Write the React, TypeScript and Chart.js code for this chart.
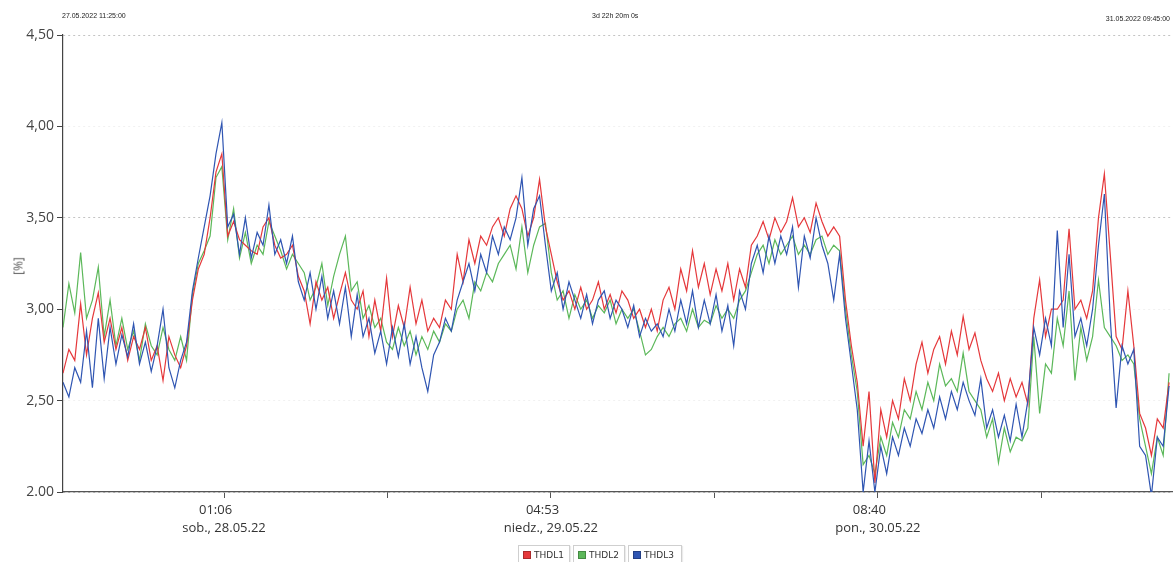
import React, { useEffect, useRef } from "react";
import Chart from "chart.js/auto";

// Sampling: one value every 30 minutes from 27.05.2022 11:25:00
const SAMPLE_STEP_MIN = 30;
const TOTAL_MIN = 5660; // 3d 22h 20m

const THDL1 = [
  2.65, 2.78, 2.72, 3.03, 2.75, 2.95,
  3.09, 2.82, 2.95, 2.78, 2.90, 2.72, 2.85, 2.78, 2.90, 2.72, 2.80, 2.61, 2.85, 2.75, 2.68,
  2.80, 3.05, 3.22, 3.30, 3.50, 3.75, 3.85,
  3.40, 3.48, 3.38, 3.35, 3.32, 3.30, 3.45, 3.50, 3.35, 3.28, 3.30, 3.35,
  3.18, 3.10, 2.92, 3.15, 3.05, 3.12, 2.95, 3.08, 3.20, 3.05,
  3.00, 3.10, 2.85, 3.05, 2.88, 3.17, 2.85, 3.02, 2.90, 3.12,
  2.92, 3.05, 2.88, 2.95, 2.90, 3.05, 3.00, 3.30, 3.15, 3.38,
  3.25, 3.40, 3.35, 3.45, 3.50, 3.40, 3.55, 3.62, 3.55, 3.40,
  3.50, 3.71, 3.45, 3.30, 3.15, 3.05, 3.10, 3.00, 3.12, 3.00,
  3.05, 3.15, 3.00, 3.08, 2.98, 3.10, 3.05, 2.95, 3.00, 2.90,
  3.00, 2.88, 3.05, 3.12, 3.00, 3.22, 3.10, 3.32, 3.12, 3.25,
  3.08, 3.22, 3.10, 3.25, 3.05, 3.22, 3.12, 3.35, 3.40, 3.48,
  3.38, 3.50, 3.42, 3.48, 3.61, 3.45, 3.50, 3.42, 3.58, 3.48,
  3.40, 3.45, 3.40, 3.05, 2.80, 2.60, 2.25, 2.55, 2.05, 2.45,
  2.30, 2.50, 2.40, 2.62, 2.50, 2.70, 2.82, 2.65, 2.78, 2.85,
  2.70, 2.88, 2.75, 2.96, 2.78, 2.87, 2.72, 2.62, 2.55, 2.65,
  2.50, 2.62, 2.52, 2.60, 2.48, 2.95, 3.16, 2.85, 3.00, 3.00,
  3.05, 3.44, 3.00, 3.05, 2.95, 3.10, 3.50, 3.74, 3.30, 2.85,
  2.78, 3.10, 2.80, 2.43, 2.35, 2.20, 2.40, 2.35, 2.60,
];

const THDL2 = [
  2.90, 3.14, 2.98, 3.31, 2.95, 3.05,
  3.23, 2.85, 3.05, 2.80, 2.95, 2.78, 2.88, 2.72, 2.92, 2.80, 2.75, 2.90, 2.78, 2.72, 2.85,
  2.72, 3.08, 3.25, 3.32, 3.40, 3.72, 3.78,
  3.38, 3.55, 3.28, 3.42, 3.25, 3.35, 3.30, 3.48, 3.40, 3.32, 3.22, 3.30,
  3.25, 3.20, 3.05, 3.12, 3.25, 3.02, 3.18, 3.30, 3.40, 3.10,
  3.15, 2.95, 3.02, 2.90, 2.95, 2.82, 2.78, 2.90, 2.80, 2.88,
  2.75, 2.85, 2.78, 2.88, 2.82, 2.92, 2.88, 3.00, 3.05, 2.95,
  3.15, 3.10, 3.20, 3.15, 3.25, 3.30, 3.35, 3.22, 3.45, 3.20,
  3.35, 3.45, 3.47, 3.20, 3.05, 3.10, 2.95, 3.08, 3.00, 3.05,
  2.95, 3.02, 2.98, 3.05, 2.92, 3.00, 2.95, 3.00, 2.88, 2.75,
  2.78, 2.85, 2.90, 2.85, 2.92, 2.95, 2.88, 3.00, 2.90, 2.94,
  2.92, 3.02, 2.95, 3.00, 2.95, 3.05, 3.10, 3.20, 3.30, 3.35,
  3.25, 3.38, 3.30, 3.35, 3.40, 3.30, 3.35, 3.30, 3.38, 3.40,
  3.30, 3.35, 3.32, 3.00, 2.75, 2.55, 2.15, 2.20, 2.10, 2.30,
  2.20, 2.38, 2.30, 2.45, 2.40, 2.55, 2.45, 2.60, 2.50, 2.70,
  2.58, 2.62, 2.55, 2.76, 2.55, 2.50, 2.45, 2.30, 2.40, 2.16,
  2.35, 2.22, 2.30, 2.28, 2.35, 2.85, 2.43, 2.70, 2.65, 2.95,
  2.80, 3.10, 2.61, 2.90, 2.72, 2.85, 3.16, 2.90, 2.85, 2.80,
  2.72, 2.75, 2.70, 2.40, 2.25, 2.10, 2.30, 2.20, 2.65,
];

const THDL3 = [
  2.60, 2.52, 2.68, 2.60, 2.88, 2.57,
  2.95, 2.62, 2.90, 2.70, 2.86, 2.74, 2.92, 2.70, 2.82, 2.66, 2.80, 3.00, 2.68, 2.57, 2.72,
  2.82, 3.10, 3.28, 3.45, 3.62, 3.85, 4.02,
  3.45, 3.52, 3.30, 3.50, 3.28, 3.42, 3.35, 3.57, 3.30, 3.38, 3.25, 3.40,
  3.15, 3.05, 3.20, 3.00, 3.18, 2.95, 3.10, 2.92, 3.12, 2.85,
  3.08, 2.85, 2.95, 2.76, 2.88, 2.70, 2.90, 2.74, 2.92, 2.70,
  2.85, 2.68, 2.55, 2.75, 2.82, 2.95, 2.88, 3.05, 3.15, 3.25,
  3.10, 3.30, 3.20, 3.40, 3.30, 3.45, 3.38, 3.50, 3.72, 3.35,
  3.55, 3.62, 3.35, 3.10, 3.20, 3.00, 3.15, 3.05, 2.95, 3.08,
  2.92, 3.05, 3.10, 2.95, 3.05, 3.00, 2.90, 3.02, 2.85, 2.95,
  2.88, 2.92, 2.85, 3.00, 2.88, 3.05, 2.92, 3.10, 2.90, 3.05,
  2.92, 3.08, 2.88, 3.02, 2.80, 3.10, 3.00, 3.25, 3.35, 3.20,
  3.40, 3.25, 3.40, 3.30, 3.45, 3.12, 3.40, 3.28, 3.50, 3.35,
  3.25, 3.05, 3.30, 2.95, 2.70, 2.45, 2.00, 2.28, 2.00, 2.25,
  2.10, 2.30, 2.20, 2.35, 2.25, 2.40, 2.32, 2.45, 2.35, 2.52,
  2.40, 2.55, 2.45, 2.60, 2.50, 2.42, 2.62, 2.35, 2.45, 2.30,
  2.42, 2.28, 2.48, 2.30, 2.50, 2.90, 2.75, 2.95, 2.80, 3.43,
  2.90, 3.30, 2.85, 2.95, 2.80, 3.00, 3.35, 3.63, 2.95, 2.46,
  2.80, 2.70, 2.78, 2.25, 2.20, 1.98, 2.30, 2.25, 2.58,
];

const SERIES_NAMES = ["THDL1", "THDL2", "THDL3"];
const SERIES_COLORS = ["#e5383b", "#5cb85a", "#2f55b2"];

const X_TICK_MINUTES = [821, 1654.5, 2488, 3321.5, 4155, 4988.5];
const X_TICK_LABELS: (string | string[])[] = [
  ["01:06     ", "sob., 28.05.22"],
  "",
  ["04:53     ", "niedz., 29.05.22"],
  "",
  ["08:40     ", "pon., 30.05.22"],
  "",
];
const Y_TICK_VALUES = [2, 2.5, 3, 3.5, 4, 4.5];
const Y_TICK_LABELS = ["2.00", "2,50", "3,00", "3,50", "4,00", "4,50"];
const Y_STRONG_GRID = [2, 3.5, 4.5];

const HEADER_START = "27.05.2022 11:25:00";
const HEADER_SPAN = "3d 22h 20m 0s";
const HEADER_END = "31.05.2022 09:45:00";
const Y_TITLE = "[%]";

export default function App() {
  const canvasRef = useRef<HTMLCanvasElement | null>(null);

  useEffect(() => {
    document.body.style.margin = "0";
    const canvas = canvasRef.current;
    if (!canvas) return;
    const seriesValues = [THDL1, THDL2, THDL3];
    const orders = [2, 3, 1];
    const chart = new Chart(canvas, {
      type: "line",
      data: {
        datasets: seriesValues.map((vals, s) => ({
          label: SERIES_NAMES[s],
          data: vals.map((v, i) => ({ x: i * SAMPLE_STEP_MIN, y: v })),
          borderColor: SERIES_COLORS[s],
          backgroundColor: SERIES_COLORS[s],
          borderWidth: 1.2,
          pointRadius: 0,
          tension: 0,
          fill: false,
          order: orders[s],
        })),
      },
      options: {
        responsive: false,
        animation: false,
        parsing: true,
        layout: { padding: { top: 35, left: 0, right: 0, bottom: 0 } },
        plugins: {
          legend: { display: false },
          tooltip: { enabled: false },
        },
        scales: {
          x: {
            type: "linear",
            min: 0,
            max: TOTAL_MIN,
            afterBuildTicks: (scale: any) => {
              scale.ticks = X_TICK_MINUTES.map((v) => ({ value: v }));
            },
            afterFit: (scale: any) => {
              scale.height = 70;
            },
            ticks: {
              autoSkip: false,
              maxRotation: 0,
              minRotation: 0,
              padding: 4,
              color: "#333",
              font: { family: "'Open Sans', 'Noto Sans', sans-serif", size: 13, lineHeight: 1.35 },
              callback: (_v: any, idx: number) => X_TICK_LABELS[idx],
            },
            grid: {
              drawOnChartArea: false,
              drawTicks: true,
              tickLength: 6,
              color: "#555",
            },
            border: { display: true, color: "#555", width: 1.2 },
          },
          y: {
            type: "linear",
            min: 2,
            max: 4.5,
            afterBuildTicks: (scale: any) => {
              scale.ticks = Y_TICK_VALUES.map((v) => ({ value: v }));
            },
            afterFit: (scale: any) => {
              scale.width = 63;
            },
            ticks: {
              padding: 3,
              color: "#444",
              font: { family: "'Open Sans', 'Noto Sans', sans-serif", size: 14 },
              callback: (_v: any, idx: number) => Y_TICK_LABELS[idx],
            },
            grid: {
              drawOnChartArea: true,
              drawTicks: true,
              tickLength: 6,
              color: (ctx: any) =>
                ctx.tick && Y_STRONG_GRID.includes(ctx.tick.value) ? "#c4c4c4" : "#f1f1f1",
              tickColor: "#444",
            },
            border: { display: true, color: "#444", width: 1.2, dash: [2, 3] },
          },
        },
      },
    } as any);
    return () => chart.destroy();
  }, []);

  const smallText: React.CSSProperties = {
    position: "absolute",
    fontFamily: "'Liberation Sans', Arial, sans-serif",
    fontSize: 7,
    color: "#222",
    whiteSpace: "nowrap",
    lineHeight: "8px",
  };

  const legendBoxes = [
    { left: 518, width: 52 },
    { left: 573, width: 52 },
    { left: 628, width: 54 },
  ];

  return (
    <div
      style={{
        position: "fixed",
        left: 0,
        top: 0,
        width: 1173,
        height: 562,
        background: "#fff",
        overflow: "hidden",
      }}
    >
      <canvas ref={canvasRef} width={1173} height={562} style={{ display: "block" }} />
      <div style={{ ...smallText, left: 62, top: 12 }}>{HEADER_START}</div>
      <div style={{ ...smallText, left: 592, top: 12 }}>{HEADER_SPAN}</div>
      <div style={{ ...smallText, right: 3, top: 15 }}>{HEADER_END}</div>
      <div
        style={{
          position: "absolute",
          left: 18,
          top: 266,
          transform: "translate(-50%, -50%) rotate(-90deg)",
          fontFamily: "'Open Sans', 'Noto Sans', sans-serif",
          fontSize: 12,
          color: "#555",
          whiteSpace: "nowrap",
        }}
      >
        {Y_TITLE}
      </div>
      {SERIES_NAMES.map((name, s) => (
        <div
          key={name}
          style={{
            position: "absolute",
            left: legendBoxes[s].left,
            top: 545,
            width: legendBoxes[s].width,
            height: 22,
            boxSizing: "border-box",
            border: "1px solid #cfcfcf",
            boxShadow: "1px 1px 1px rgba(0,0,0,0.08)",
            background: "#fff",
          }}
        >
          <div
            style={{
              position: "absolute",
              left: 4,
              top: 5,
              width: 6,
              height: 6,
              background: SERIES_COLORS[s],
              border: "1px solid rgba(0,0,0,0.25)",
            }}
          />
          <div
            style={{
              position: "absolute",
              left: 15,
              top: 2,
              fontFamily: "'DejaVu Sans', sans-serif",
              fontSize: 9,
              lineHeight: "14px",
              color: "#333",
              whiteSpace: "nowrap",
            }}
          >
            {name}
          </div>
        </div>
      ))}
    </div>
  );
}
